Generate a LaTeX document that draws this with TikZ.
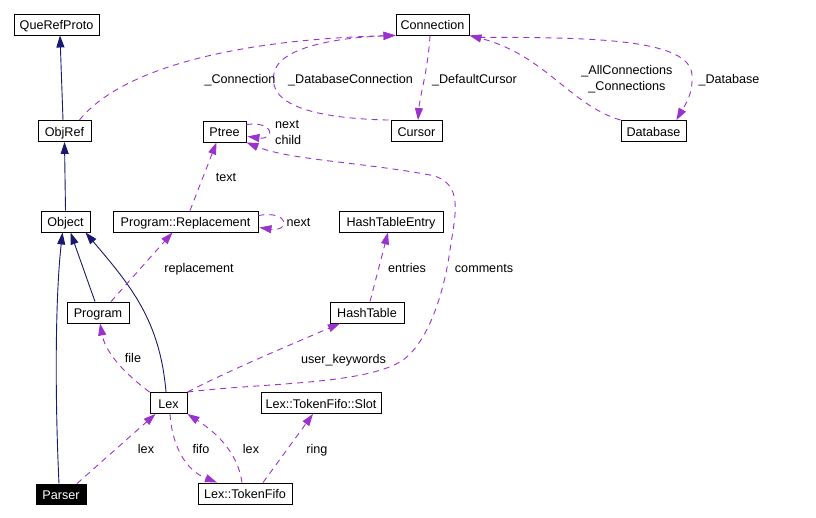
\documentclass[tikz,border=0pt]{standalone}
\usepackage{fontspec}
\setmainfont{Liberation Sans}
\usetikzlibrary{arrows.meta}
\definecolor{inhblue}{HTML}{191970}
\definecolor{collpurple}{HTML}{9A32CD}
\begin{document}
\begin{tikzpicture}[x=1pt,y=-1pt,
  cls/.style={draw=black, line width=0.9pt, fill=white, minimum height=21pt, inner sep=0pt,
     text height=10.5pt, text depth=0pt, font=\fontsize{12.6}{14}\selectfont},
  lbl/.style={font=\fontsize{12.6}{16}\selectfont, inner sep=0pt, text height=9pt, text depth=0.5pt},
  inh/.style={draw=inhblue, line width=0.9pt, -{Triangle[length=12pt,width=8pt]}},
  coll/.style={draw=collpurple, line width=0.9pt, dash pattern=on 6pt off 5pt, -{Triangle[length=12pt,width=8pt]}}]
\useasboundingbox[fill=white] (0,0) rectangle (816,518);

% classes
\node[cls, minimum width=85pt] (QueRefProto) at (56.5,24.5) {QueRefProto};
\node[cls, minimum width=73pt] (Connection) at (432.5,24.5) {Connection};
\node[cls, minimum width=53pt] (ObjRef) at (64.5,131) {ObjRef};
\node[cls, minimum width=43pt] (Ptree) at (224.5,131.5) {Ptree};
\node[cls, minimum width=51pt] (Cursor) at (416.5,131) {Cursor};
\node[cls, minimum width=65pt] (Database) at (653.5,131) {Database};
\node[cls, minimum width=49pt] (Object) at (65.5,221.5) {Object};
\node[cls, minimum width=145pt] (PR) at (185.5,221.5) {Program::Replacement};
\node[cls, minimum width=104pt] (HTE) at (391,221.5) {HashTableEntry};
\node[cls, minimum width=62pt] (Program) at (98,312.5) {Program};
\node[cls, minimum width=74pt] (HashTable) at (367,312.5) {HashTable};
\node[cls, minimum width=37pt] (Lex) at (168.5,403) {Lex};
\node[cls, minimum width=120pt] (Slot) at (321,403) {Lex::TokenFifo::Slot};
\node[cls, minimum width=50pt, minimum height=20pt, fill=black, text=white] (Parser) at (61,494) {Parser};
\node[cls, minimum width=94pt] (LTF) at (245,493.5) {Lex::TokenFifo};

% inheritance
\draw[inh] ([xshift=-1.5pt]ObjRef.north) -- ([xshift=3.5pt]QueRefProto.south);
\draw[inh] (Object.north) -- (ObjRef.south);
\draw[inh] ([xshift=-2pt]Parser.north) .. controls (55,400) and (55,300) .. ([xshift=-3pt]Object.south);
\draw[inh] ([xshift=-3pt]Program.north) -- ([xshift=5pt]Object.south);
\draw[inh] ([xshift=-2.5pt]Lex.north) .. controls (160,320) and (130,285) .. ([xshift=20pt]Object.south);

% collaboration
\draw[coll] ([xshift=-12pt]ObjRef.north east) .. controls (120,70) and (230,40) .. (Connection.south west);
\draw[coll] ([xshift=-2pt]Cursor.north west) .. controls (300,118) and (265,100) .. (275,70)
   .. controls (282,49) and (330,38) .. (Connection.south west);
\draw[coll] ([xshift=-2.5pt]Connection.south) .. controls (428,70) and (420,95) .. ([xshift=1.5pt]Cursor.north);
\draw[coll] (Database.north west) .. controls (570,105) and (545,55) .. (Connection.south east);
\draw[coll] ([xshift=10pt,yshift=-2pt]Connection.south east) .. controls (600,37) and (690,40) .. (692,75)
   .. controls (693,95) and (685,105) .. ([xshift=-10pt]Database.north east);
\draw[coll] ([yshift=7pt]Ptree.east) .. controls (275,121) and (275,140) .. ([xshift=1pt,yshift=-5pt]Ptree.east);
\draw[coll] ([yshift=6pt]PR.east) .. controls (290,210) and (290,232) .. ([xshift=1pt,yshift=-6pt]PR.east);
\draw[coll] ([xshift=4.5pt]PR.north) -- ([xshift=-8pt]Ptree.south);
\draw[coll] ([xshift=13pt]Program.north) -- ([xshift=-13pt]PR.south);
\draw[coll] ([xshift=3pt]HashTable.north) -- ([xshift=-3pt]HTE.south);
\draw[coll] (Lex.north west) .. controls (120,370) and (105,350) .. ([xshift=2pt]Program.south);
\draw[coll] (Lex.north east) .. controls (230,370) and (290,345) .. ([xshift=-27pt]HashTable.south);
\draw[coll] (Lex.north east) .. controls (260,383) and (360,385) .. (400,362)
   .. controls (425,347) and (443,300) .. (450,250)
   .. controls (455,215) and (465,182) .. (430,175)
   .. controls (360,162) and (290,160) .. (Ptree.south east);
\draw[coll] ([xshift=16pt]Parser.north) -- ([xshift=-13pt]Lex.south);
\draw[coll] ([xshift=1.5pt]Lex.south) .. controls (172,445) and (185,470) .. ([xshift=-28pt]LTF.north);
\draw[coll] ([xshift=-3pt]LTF.north) .. controls (238,455) and (220,435) .. (Lex.south east);
\draw[coll] ([xshift=18pt]LTF.north) -- ([xshift=-8pt]Slot.south);

% labels
\node[lbl] (l1) at (240,79) {\_Connection};
\node[lbl] (l2) at (350.5,79) {\_DatabaseConnection};
\node[lbl] (l3) at (474.5,79) {\_DefaultCursor};
\node[lbl, align=center, text height=, text depth=] (l4) at (627,79) {\_AllConnections\\\_Connections};
\node[lbl] (l5) at (729,79) {\_Database};
\node[lbl, align=left, anchor=west, text height=, text depth=] (l6) at (275,132) {next\\child};
\node[lbl] (l7) at (226,177) {text};
\node[lbl] (l8) at (298.5,222) {next};
\node[lbl] (l9) at (199,268) {replacement};
\node[lbl] (l10) at (407,268) {entries};
\node[lbl] (l11) at (484,268) {comments};
\node[lbl] (l12) at (343.5,359) {user\_keywords};
\node[lbl] (l13) at (133,358) {file};
\node[lbl] (l14) at (146,449) {lex};
\node[lbl] (l15) at (201,449) {fifo};
\node[lbl] (l16) at (251,449) {lex};
\node[lbl] (l17) at (317,449) {ring};
\end{tikzpicture}
\end{document}
